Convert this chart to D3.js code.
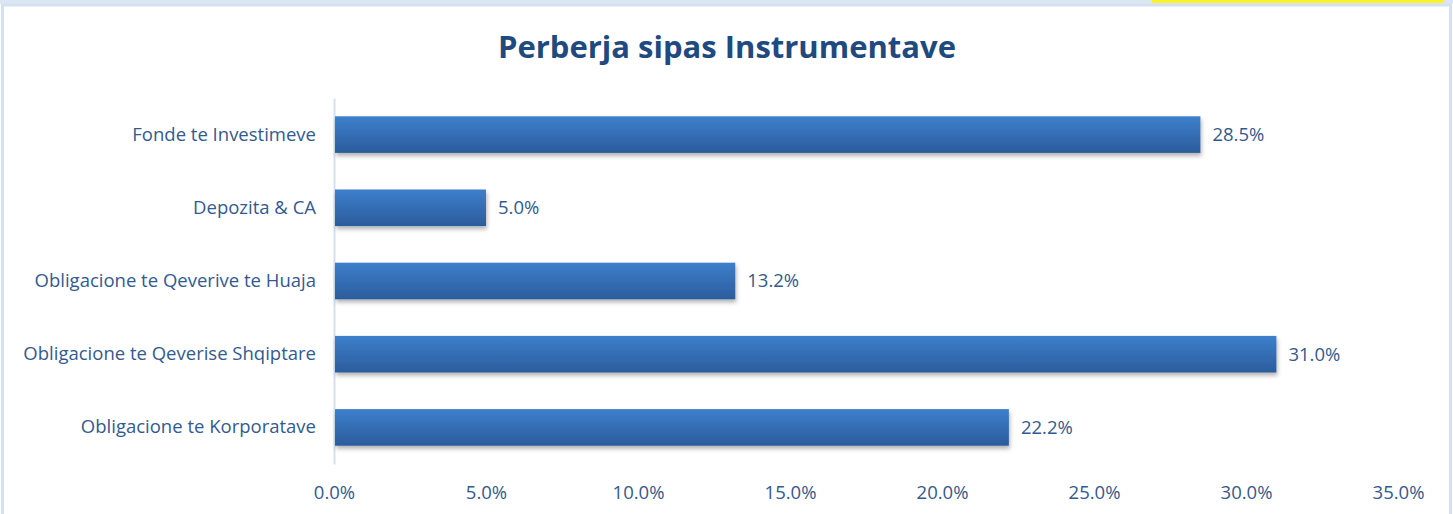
<!DOCTYPE html>
<html>
<head>
<meta charset="utf-8">
<script src="https://cdn.jsdelivr.net/npm/d3@7"></script>
<style>
  body { margin: 0; background: #fff; }
  svg { display: block; }
</style>
</head>
<body>
<svg id="chart"></svg>
<script>
// data
const categories = [
  "Fonde te Investimeve",
  "Depozita & CA",
  "Obligacione te Qeverive te Huaja",
  "Obligacione te Qeverise Shqiptare",
  "Obligacione te Korporatave"
];
const values = [28.5, 5.0, 13.2, 31.0, 22.2];
const tickValues = [0, 5, 10, 15, 20, 25, 30, 35];
const title = "Perberja sipas Instrumentave";

const W = 1453, H = 514;
const margin = { top: 98, right: 55, bottom: 50, left: 334 };
const width = 1398 - margin.left;
const height = 464 - margin.top;

const font = "'Open Sans', 'Liberation Sans', sans-serif";
const textColor = "#335A8F";

const svg = d3.select("#chart").attr("width", W).attr("height", H);

// gradient + shadow
const defs = svg.append("defs");
const grad = defs.append("linearGradient").attr("id", "barGrad")
  .attr("x1", 0).attr("y1", 0).attr("x2", 0).attr("y2", 1);
grad.append("stop").attr("offset", "0%").attr("stop-color", "#3D7FCC");
grad.append("stop").attr("offset", "100%").attr("stop-color", "#2B5C9C");
const shadow = defs.append("filter").attr("id", "shadow")
  .attr("x", "-5%").attr("y", "-20%").attr("width", "110%").attr("height", "160%");
shadow.append("feDropShadow").attr("dx", 1).attr("dy", 3).attr("stdDeviation", 2)
  .attr("flood-color", "#000").attr("flood-opacity", 0.3);

// outer frame
svg.append("rect").attr("x", 0).attr("y", 0).attr("width", W).attr("height", 4)
  .attr("fill", "#DCE6F2");
svg.append("rect").attr("x", 1152).attr("y", 0).attr("width", 292).attr("height", 3)
  .attr("fill", "#FFF22A");
svg.append("rect").attr("x", 2.5).attr("y", 5).attr("width", W - 5).attr("height", H + 10)
  .attr("fill", "none").attr("stroke", "#D5E1F1").attr("stroke-width", 3);

svg.append("text")
  .attr("x", 727).attr("y", 58)
  .attr("text-anchor", "middle")
  .attr("font-family", font)
  .attr("font-weight", "bold")
  .attr("font-size", 31)
  .attr("fill", "#1F4A80")
  .text(title);

const g = svg.append("g").attr("transform", `translate(${margin.left},${margin.top})`);

const x = d3.scaleLinear().domain([0, 35]).range([0, width]);
const y = d3.scaleBand().domain(categories).range([0, height])
  .paddingInner(0.5).paddingOuter(0.25);

// x axis labels
const xAxis = g.append("g").attr("transform", `translate(0,${height})`)
  .call(d3.axisBottom(x).tickValues(tickValues).tickSize(0).tickPadding(22)
    .tickFormat(d => d.toFixed(1) + "%"));
xAxis.select(".domain").remove();
xAxis.selectAll("text").attr("font-family", font).attr("font-size", 18.5).attr("fill", textColor);

// y axis
const yAxis = g.append("g")
  .call(d3.axisLeft(y).tickSize(0).tickPadding(18));
yAxis.select(".domain").attr("stroke", "#D5E1F1").attr("stroke-width", 2);
yAxis.selectAll("text").attr("font-family", font).attr("font-size", 18.5).attr("fill", textColor);

// bars
g.selectAll(".bar").data(values).enter().append("rect")
  .attr("class", "bar")
  .attr("x", 1)
  .attr("y", (d, i) => y(categories[i]))
  .attr("width", d => x(d) - 1)
  .attr("height", y.bandwidth())
  .attr("fill", "url(#barGrad)")
  .attr("filter", "url(#shadow)");

// value labels
g.selectAll(".val").data(values).enter().append("text")
  .attr("x", d => x(d) + 12)
  .attr("y", (d, i) => y(categories[i]) + y.bandwidth() / 2)
  .attr("dy", "0.35em")
  .attr("font-family", font).attr("font-size", 18.5).attr("fill", textColor)
  .text(d => d.toFixed(1) + "%");
</script>
</body>
</html>
